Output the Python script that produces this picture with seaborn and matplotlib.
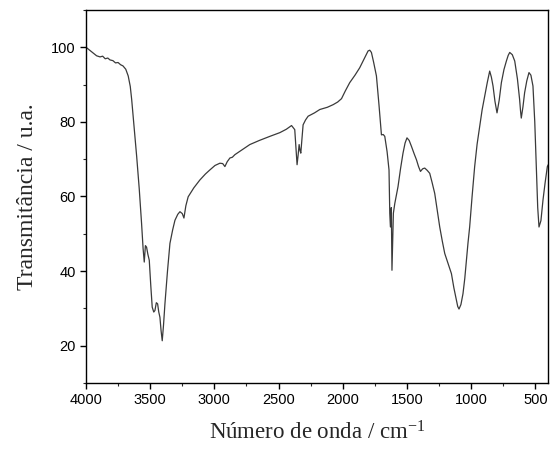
import matplotlib
matplotlib.use("Agg")
import matplotlib.pyplot as plt
import numpy as np
import pandas as pd
import seaborn as sns
from matplotlib.ticker import MultipleLocator

# wavenumber (cm-1) and transmittance (a.u.)
wavenumber = [
    4000, 3960, 3917, 3890, 3870, 3850, 3830, 3813, 3790, 3770, 3750, 3730,
    3712, 3690, 3671, 3655, 3644, 3625, 3605, 3585, 3567, 3555, 3546, 3537,
    3528, 3518, 3507, 3495, 3484, 3472, 3463, 3452, 3442, 3433, 3424, 3415,
    3406, 3396, 3385, 3365, 3346, 3325, 3307, 3285, 3268, 3250, 3237, 3222,
    3204, 3160, 3113, 3070, 3035, 2995, 2957, 2935, 2918, 2900, 2879, 2860,
    2840, 2780, 2724, 2650, 2568, 2490, 2440, 2399, 2374, 2365, 2356, 2348,
    2340, 2333, 2327, 2318, 2309, 2290, 2270, 2220, 2179, 2120, 2075, 2040,
    2010, 1980, 1946, 1905, 1868, 1835, 1803, 1790, 1777, 1760, 1738, 1718,
    1699, 1685, 1673, 1655, 1640, 1634, 1629, 1622, 1617, 1606, 1595, 1570,
    1550, 1531, 1515, 1500, 1483, 1465, 1445, 1426, 1410, 1395, 1378, 1362,
    1343, 1323, 1305, 1284, 1265, 1245, 1225, 1206, 1180, 1154, 1135, 1115,
    1105, 1095, 1080, 1064, 1050, 1037, 1025, 1012, 993, 973, 954, 934,
    915, 895, 875, 856, 843, 830, 815, 799, 782, 765, 745, 726,
    712, 700, 680, 661, 640, 623, 616, 610, 597, 584, 567, 550,
    535, 519, 505, 493, 482, 472, 457, 441, 425, 407, 400,
]
transmittance = [
    100.0, 98.9, 97.7, 97.4, 97.6, 96.9, 97.1, 96.6, 96.4, 95.8, 95.9, 95.3,
    95.0, 94.1, 92.3, 89.5, 86.0, 78.5, 70.7, 62.0, 52.8, 46.0, 42.4, 46.8,
    46.4, 44.5, 42.9, 36.0, 30.3, 29.0, 29.4, 31.5, 31.2, 29.0, 27.6, 24.0,
    21.3, 25.5, 31.2, 40.0, 47.4, 51.0, 53.6, 55.2, 55.9, 55.4, 54.2, 57.5,
    59.9, 62.3, 64.4, 66.0, 67.1, 68.3, 68.9, 68.8, 68.0, 69.3, 70.3, 70.5,
    71.2, 72.6, 73.9, 75.0, 76.1, 77.1, 78.0, 79.0, 77.9, 73.0, 68.5, 71.0,
    73.9, 72.3, 71.6, 75.5, 79.2, 80.5, 81.5, 82.4, 83.3, 83.9, 84.6, 85.3,
    86.2, 88.3, 90.5, 92.5, 94.5, 96.8, 99.0, 99.2, 98.6, 96.0, 92.3, 84.5,
    76.5, 76.6, 76.1, 72.0, 67.1, 55.4, 51.8, 57.0, 40.2, 55.5, 58.1, 62.6,
    67.5, 71.6, 74.3, 75.7, 75.0, 73.4, 71.5, 69.8, 68.0, 66.7, 67.4, 67.6,
    67.0, 66.2, 63.8, 60.8, 56.5, 51.8, 48.0, 44.7, 42.0, 39.3, 35.5, 32.1,
    30.5, 29.8, 31.0, 33.9, 38.0, 42.9, 47.5, 51.8, 60.0, 68.0, 74.0, 78.8,
    83.2, 86.9, 90.5, 93.6, 92.0, 89.6, 85.5, 82.4, 85.8, 90.5, 94.0, 96.3,
    97.8, 98.6, 98.0, 96.3, 91.5, 86.0, 83.0, 81.0, 84.0, 87.8, 91.0, 93.2,
    92.5, 89.6, 80.0, 68.0, 57.0, 51.8, 53.5, 59.0, 63.5, 68.0, 68.5,
]

df = pd.DataFrame({"wavenumber": wavenumber, "transmittance": transmittance})

sns.set_style("ticks")
plt.rcParams["font.family"] = ["Liberation Sans", "DejaVu Sans"]
plt.rcParams["mathtext.default"] = "regular"

fig = plt.figure(figsize=(5.51, 4.51), dpi=100)
ax = fig.add_axes([0.156, 0.151, 0.839, 0.827])

sns.lineplot(data=df, x="wavenumber", y="transmittance", ax=ax,
             color="#3a3a3a", linewidth=0.9, sort=False, estimator=None)

ax.set_xlim(4000, 400)
ax.set_ylim(10, 110)
ax.xaxis.set_major_locator(MultipleLocator(500))
ax.xaxis.set_minor_locator(MultipleLocator(250))
ax.yaxis.set_major_locator(MultipleLocator(20))
ax.yaxis.set_minor_locator(MultipleLocator(10))
ax.tick_params(which="major", direction="out", length=4, width=1,
               labelsize=10.5, colors="black")
ax.tick_params(which="minor", direction="out", length=2.5, width=0.8)

for side in ["top", "right", "left", "bottom"]:
    ax.spines[side].set_visible(True)
    ax.spines[side].set_color("black")
    ax.spines[side].set_linewidth(1.0)

serif = ["Liberation Serif", "DejaVu Serif"]
ax.set_xlabel("Número de onda / cm$^{-1}$", family=serif, size=16.5,
              labelpad=10)
ax.set_ylabel("Transmitância / u.a.", family=serif, size=17, labelpad=9)

fig.savefig("out.png", dpi=100)
